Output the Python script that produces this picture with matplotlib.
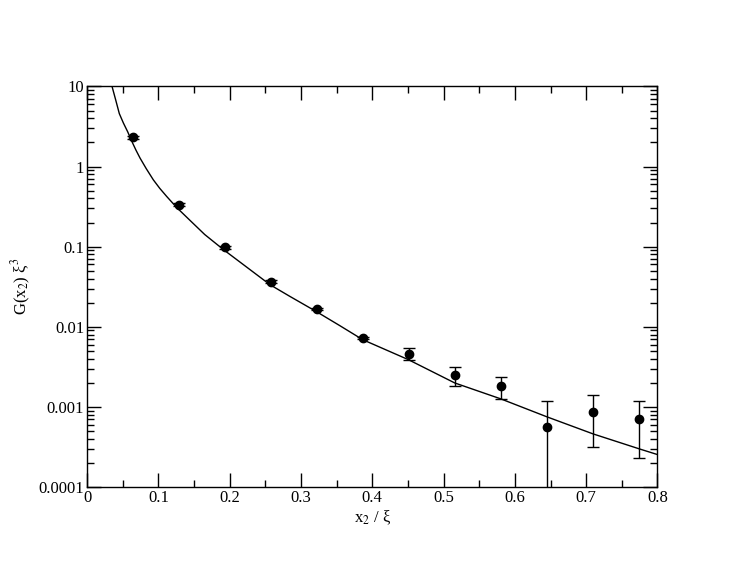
import matplotlib
matplotlib.use("Agg")
import matplotlib.pyplot as plt
from matplotlib.ticker import LogLocator, NullFormatter, FixedLocator

plt.rcParams['font.family'] = ['Liberation Serif', 'DejaVu Serif']
plt.rcParams['mathtext.fontset'] = 'stix'

# measured points
x_data = [0.0645, 0.129, 0.1935, 0.258, 0.3225, 0.387, 0.4515, 0.516, 0.5805, 0.645, 0.7095, 0.774]
g_data = [2.33, 0.335, 0.098, 0.0367, 0.0167, 0.00726, 0.00459, 0.00249, 0.00182, 0.000565, 0.000854, 0.000711]
g_low = [2.22, 0.322, 0.094, 0.0352, 0.0160, 0.00700, 0.00380, 0.00183, 0.00124, 0.00005, 0.000313, 0.000228]
g_high = [2.44, 0.348, 0.102, 0.0382, 0.0174, 0.00752, 0.00537, 0.00316, 0.00233, 0.00120, 0.00139, 0.00118]

# fit curve
x_fit = [0.0351, 0.0400, 0.0453, 0.0510, 0.0571, 0.0630, 0.0687, 0.0743, 0.0830, 0.0930,
         0.1020, 0.1118, 0.1258, 0.1421, 0.1650, 0.1917, 0.2240, 0.2567, 0.2847, 0.3212,
         0.3540, 0.3867, 0.4506, 0.5157, 0.5802, 0.6452, 0.7097, 0.7746, 0.8]
g_fit = [10.0, 6.90, 4.58, 3.50, 2.71, 2.05, 1.60, 1.28, 0.944, 0.683,
         0.535, 0.423, 0.308, 0.223, 0.142, 0.0914, 0.0555, 0.0335, 0.0239, 0.01556,
         0.0104, 0.0069, 0.00389, 0.00199, 0.00126, 0.00075, 0.00046, 0.000299, 0.000254]

x_ticks = [0, 0.1, 0.2, 0.3, 0.4, 0.5, 0.6, 0.7, 0.8]
x_tick_labels = ['0', '0.1', '0.2', '0.3', '0.4', '0.5', '0.6', '0.7', '0.8']
x_minor = [0.05, 0.15, 0.25, 0.35, 0.45, 0.55, 0.65, 0.75]
y_ticks = [0.0001, 0.001, 0.01, 0.1, 1, 10]
y_tick_labels = ['0.0001', '0.001', '0.01', '0.1', '1', '10']

yerr = [[g - lo for g, lo in zip(g_data, g_low)], [hi - g for g, hi in zip(g_data, g_high)]]

fig = plt.figure(figsize=(7.4, 5.72), dpi=100)
ax = fig.add_axes([0.1176, 0.1486, 0.7709, 0.7002])

ax.plot(x_fit, g_fit, color='black', linewidth=1.0)
ax.errorbar(x_data, g_data, yerr=yerr, fmt='o', color='black', markersize=6,
            elinewidth=1.0, capsize=4.2, capthick=1.0)

ax.set_yscale('log')
ax.set_xlim(0, 0.8)
ax.set_ylim(0.0001, 10)

ax.xaxis.set_major_locator(FixedLocator(x_ticks))
ax.set_xticklabels(x_tick_labels)
ax.xaxis.set_minor_locator(FixedLocator(x_minor))
ax.yaxis.set_major_locator(FixedLocator(y_ticks))
ax.set_yticklabels(y_tick_labels)
ax.yaxis.set_minor_locator(LogLocator(base=10, subs=range(2, 10)))
ax.yaxis.set_minor_formatter(NullFormatter())

ax.tick_params(which='both', direction='in', top=True, right=True, labelsize=12, width=1.0)
ax.tick_params(which='major', length=10, pad=2)
ax.tick_params(which='minor', length=5)
for s in ax.spines.values():
    s.set_linewidth(1.0)

ax.set_xlabel(r'x$_2$ / ξ', fontsize=12, labelpad=2)
ax.set_ylabel(r'G(x$_2$) ξ$^3$', fontsize=12, labelpad=4)

fig.savefig('out.png', dpi=100)
